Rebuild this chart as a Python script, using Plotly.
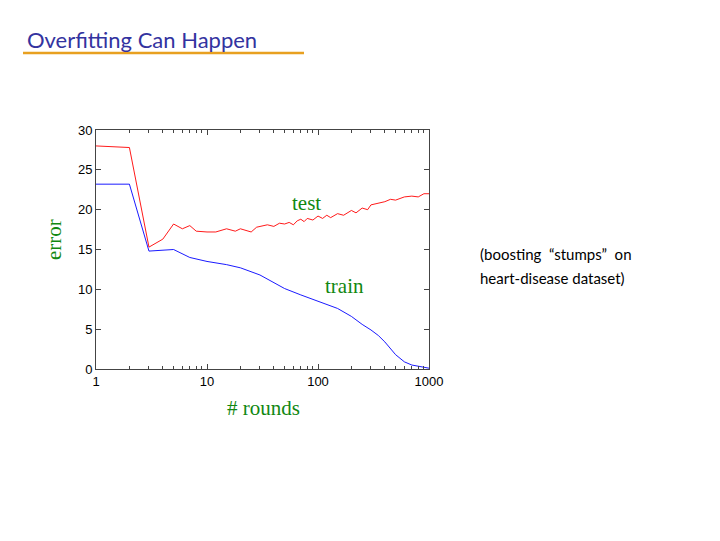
import plotly.graph_objects as go

rounds_test = [1, 2, 3, 4, 5, 6, 7, 8, 10, 12, 15, 18, 20, 22, 25, 28, 30, 35, 40, 45, 50, 55, 60, 65, 70, 75, 80, 90, 100,
               110, 120, 130, 150, 170, 200, 220, 250, 280, 300, 350, 400, 450, 500, 600, 700, 800, 900, 1000]
test_err = [28.0, 27.8, 15.3, 16.3, 18.2, 17.6, 18.0, 17.3, 17.2, 17.2, 17.6, 17.3, 17.6, 17.4, 17.2, 17.8, 17.9, 18.1, 17.9, 18.3, 18.2, 18.4, 18.1, 18.6, 18.8, 18.5, 18.9, 18.7, 19.2,
            18.9, 19.3, 19.0, 19.5, 19.3, 19.9, 19.6, 20.2, 20.0, 20.6, 20.8, 21.0, 21.3, 21.2, 21.6, 21.7, 21.6, 22.0, 22.0]
rounds_train = [1, 2, 3, 5, 7, 10, 15, 20, 30, 50, 70, 100, 150, 200, 250, 300, 350, 400, 500, 600, 700, 1000]
train_err = [23.2, 23.2, 14.8, 15.0, 14.0, 13.5, 13.1, 12.7, 11.8, 10.1, 9.3, 8.5, 7.6, 6.6, 5.6, 4.9, 4.2, 3.4, 1.8, 0.9, 0.5, 0.1]
y_ticks = [0, 5, 10, 15, 20, 25, 30]
x_ticks = [1, 10, 100, 1000]
x_minor = [m * d for d in (1, 10, 100) for m in range(2, 10)]

fig = go.Figure()
fig.add_trace(go.Scatter(x=rounds_test, y=test_err, mode="lines", line=dict(color="red", width=0.9)))
fig.add_trace(go.Scatter(x=rounds_train, y=train_err, mode="lines", line=dict(color="blue", width=0.9)))

axis_common = dict(showline=True, linecolor="#444", linewidth=1, mirror="ticks", ticks="inside",
                   ticklen=5, tickcolor="#444", showgrid=False, zeroline=False,
                   tickfont=dict(family="Liberation Sans", size=13, color="black"))
fig.update_xaxes(type="log", range=[0, 3], tickvals=x_ticks, ticktext=[str(v) for v in x_ticks],
                 minor=dict(ticks="inside", ticklen=3, tickcolor="#444", showgrid=False, tickvals=x_minor),
                 **axis_common)
fig.update_yaxes(range=[0, 30], tickvals=y_ticks, **axis_common)

L, R, T, B = 88, 421, 122, 361
green = "#118811"
serif = "Liberation Serif"
ann = [
    dict(x=298, y=195, text="test", font=dict(family=serif, size=21, color=green)),
    dict(x=336, y=278, text="train", font=dict(family=serif, size=21, color=green)),
    dict(x=46, y=232, text="error", textangle=-90, font=dict(family=serif, size=21, color=green)),
    dict(x=256, y=400, text="# rounds", font=dict(family=serif, size=21, color=green)),
    dict(x=470, y=246, text="(boosting  “stumps”  on", xanchor="left", font=dict(family="Lato", size=15, color="black")),
    dict(x=470, y=270, text="heart-disease dataset)", xanchor="left", font=dict(family="Lato", size=15, color="black")),
    dict(x=17, y=31, text="Overfitting Can Happen", xanchor="left", font=dict(family="Lato", size=22, color="#3333a0")),
]
annotations = []
for a in ann:
    a = dict(a)
    a["x"] = (a["x"] - L) / (R - L)
    a["y"] = (B - a["y"]) / (B - T)
    a.setdefault("xanchor", "center")
    annotations.append(dict(xref="paper", yref="paper", showarrow=False, yanchor="middle", **a))

uy = (B - 45) / (B - T)
fig.update_layout(
    width=720, height=541, showlegend=False,
    margin=dict(l=L, r=720 - R, t=T, b=541 - B),
    plot_bgcolor="white", paper_bgcolor="white",
    annotations=annotations,
    shapes=[dict(type="line", xref="paper", yref="paper", x0=(15 - L) / (R - L), x1=(296 - L) / (R - L),
                 y0=uy, y1=uy, line=dict(color="#e8a020", width=2.5))],
)
fig.write_html("out.html")
